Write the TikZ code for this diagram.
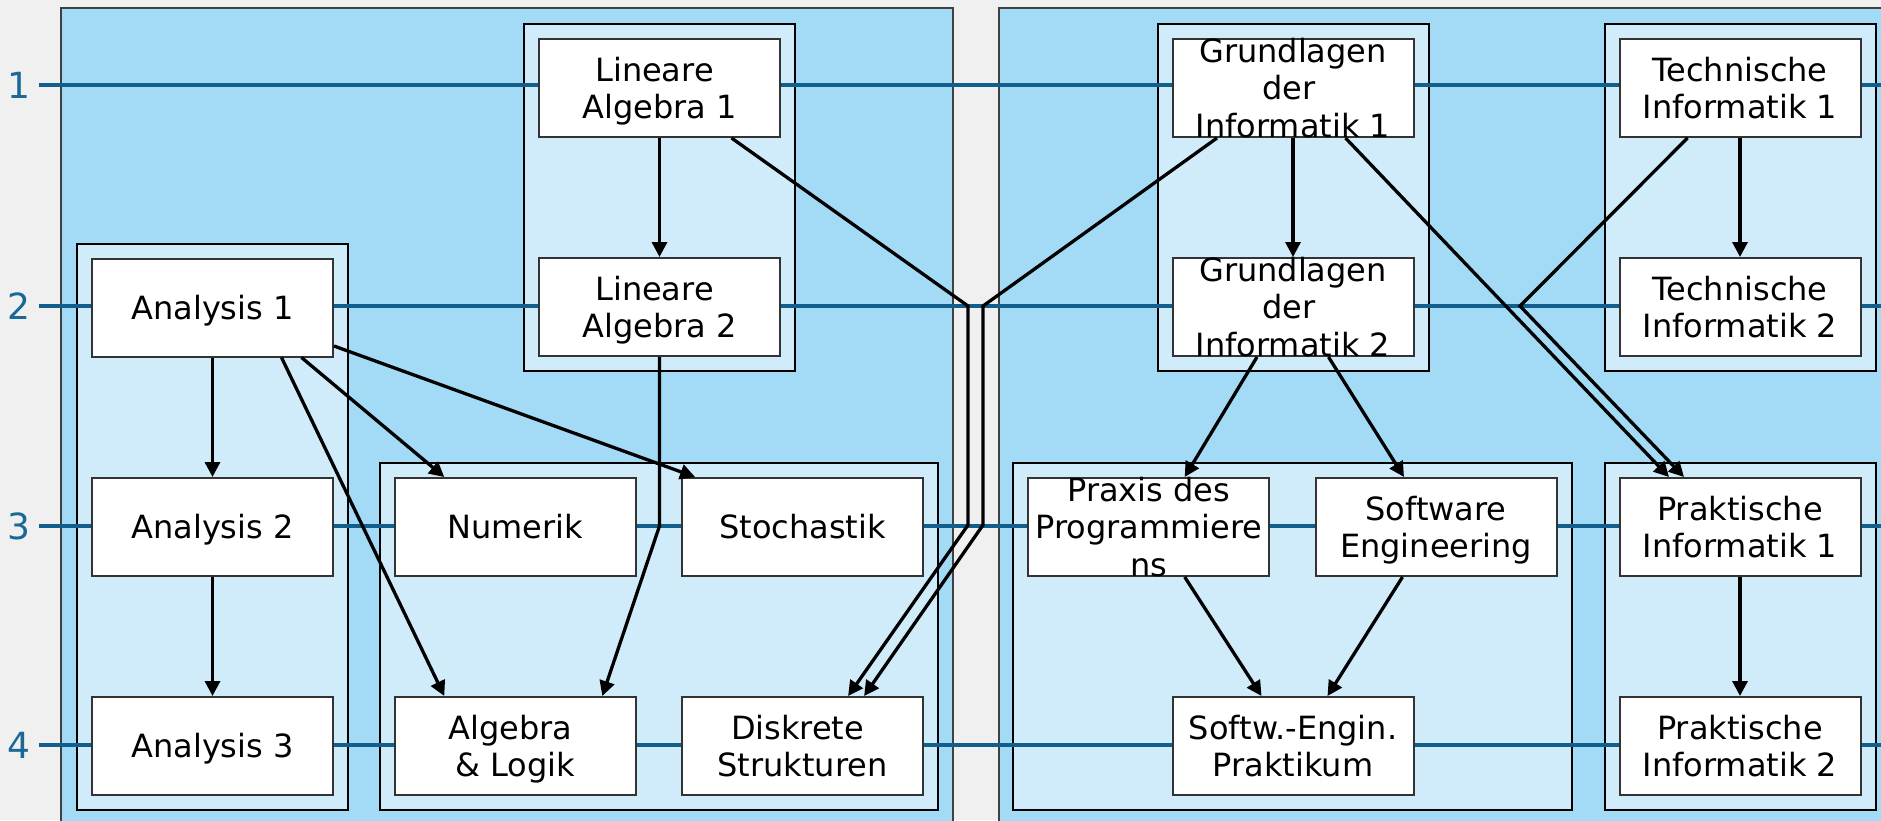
\documentclass[tikz,border=0pt]{standalone}
\usepackage{fontspec}
\setmainfont{DejaVu Sans}
\usetikzlibrary{arrows.meta,fit,calc}

\definecolor{pagegray}{HTML}{F0F0F0}
\definecolor{panelblue}{HTML}{A3DBF6}
\definecolor{groupblue}{HTML}{D0ECFA}
\definecolor{rowblue}{HTML}{125E8C}
\definecolor{numblue}{HTML}{1A6896}

\pgfdeclarelayer{back}
\pgfdeclarelayer{rows}
\pgfsetlayers{back,rows,main}

% uniform line box for the course titles
\newcommand\lnh{\rule[-7pt]{0pt}{37.5pt}}
\newcommand\coursefont{\fontsize{32pt}{37.5pt}\selectfont}

\begin{document}
\begin{tikzpicture}[x=1pt, y=-1pt,
  course/.style={draw=black!80, line width=2pt, fill=white,
    minimum width=241pt, minimum height=98pt, inner sep=0pt},
  ctext/.style={inner sep=0pt, align=center, font=\coursefont, text=black},
  grp/.style={draw=black, line width=2pt, fill=groupblue, inner sep=14pt},
  panel/.style={draw=black!75, line width=1.5pt, fill=panelblue},
  rowline/.style={draw=rowblue, line width=3.3pt},
  rownum/.style={text=numblue, font=\fontsize{36pt}{40pt}\selectfont,
    inner sep=0pt, text height=26.5pt, text depth=0pt},
  conn/.style={line width=3.3pt, -{Triangle[length=15pt,width=15pt]}}
]
\useasboundingbox (0,0) rectangle (1881,820);

% semester numbers
\node[rownum] (n1) at (19,85)  {1};
\node[rownum] (n2) at (19,306) {2};
\node[rownum] (n3) at (19,526) {3};
\node[rownum] (n4) at (19,745) {4};
\coordinate (rend) at (1881,0);

% mathematics
\node[course, label={[ctext]center:{\lnh Analysis 1}}] (a1) at (212.5,307.5) {};
\node[course, label={[ctext]center:{\lnh Analysis 2}}] (a2) at (212.5,527) {};
\node[course, label={[ctext]center:{\lnh Analysis 3}}] (a3) at (212.5,746) {};
\node[course, label={[ctext]center:{\lnh Lineare\kern10pt\\\lnh Algebra 1}}] (la1) at (659.5,88) {};
\node[course, label={[ctext]center:{\lnh Lineare\kern10pt\\\lnh Algebra 2}}] (la2) at (659.5,307) {};
\node[course, label={[ctext]center:{\lnh Numerik}}] (num) at (515.3,527) {};
\node[course, label={[ctext]center:{\lnh Stochastik}}] (sto) at (802.6,527) {};
\node[course, label={[ctext]center:{\lnh Algebra\kern10pt\\\lnh \& Logik}}] (al) at (515.3,746) {};
\node[course, label={[ctext]center:{\lnh Diskrete\kern10pt\\\lnh Strukturen}}] (ds) at (802.6,746) {};

% computer science
\node[course, label={[ctext]center:{\lnh Grundlagen\\\lnh der\kern8pt\\\lnh Informatik 1}}] (g1) at (1293,88) {};
\node[course, label={[ctext]center:{\lnh Grundlagen\\\lnh der\kern8pt\\\lnh Informatik 2}}] (g2) at (1293,307) {};
\node[course, label={[ctext]center:{\lnh Technische\\\lnh Informatik 1}}] (t1) at (1740,88) {};
\node[course, label={[ctext]center:{\lnh Technische\\\lnh Informatik 2}}] (t2) at (1740,307) {};
\node[course, label={[ctext]center:{\lnh Praxis des\\\lnh Programmiere\\\lnh ns}}] (pp) at (1148.7,527) {};
\node[course, label={[ctext]center:{\lnh Software\\\lnh Engineering}}] (se) at (1436,527) {};
\node[course, label={[ctext]center:{\lnh Softw.-Engin.\\\lnh Praktikum}}] (sep) at (1293,746) {};
\node[course, label={[ctext]center:{\lnh Praktische\\\lnh Informatik 1}}] (p1) at (1740,527) {};
\node[course, label={[ctext]center:{\lnh Praktische\\\lnh Informatik 2}}] (p2) at (1740,746) {};

% bend points of the long routes
\coordinate (ja) at (968,306);
\coordinate (jb) at (983,306);
\coordinate (ka) at (968,525);
\coordinate (kb) at (983,525);
\coordinate (tb) at (1520,306);

% prerequisites
\draw[conn] (a1) -- (a2);
\draw[conn] (a2) -- (a3);
\draw[conn] (la1) -- (la2);
\draw[conn] ($(a1.south)+(89,0)$) -- ($(num.north)+(-71,0)$);
\draw[conn] ($(a1.east)+(0,38.5)$) -- ($(sto.north)+(-107.5,0)$);
\draw[conn] ($(a1.south)+(69,0)$) -- ($(al.north)+(-71,0)$);
\draw[conn] (la2.south) -- (la2.south |- n3) -- ($(al.north)+(87,0)$);
\draw[conn] ($(la1.south)+(72,0)$) -- (ja) -- (ka) -- ($(ds.north)+(45.5,0)$);
\draw[conn] ($(g1.south)+(-76,0)$) -- (jb) -- (kb) -- ($(ds.north)+(61.5,0)$);
\draw[conn] (g1) -- (g2);
\draw[conn] ($(g2.south)+(-36,0)$) -- ($(pp.north)+(36,0)$);
\draw[conn] ($(g2.south)+(35.5,0)$) -- ($(se.north)+(-32,0)$);
\draw[conn] ($(pp.south)+(36,0)$) -- ($(sep.north)+(-31.5,0)$);
\draw[conn] ($(se.south)+(-33.5,0)$) -- ($(sep.north)+(34.5,0)$);
\draw[conn] (t1) -- (t2);
\draw[conn] (p1) -- (p2);
\draw[conn] ($(g1.south)+(52.5,0)$) -- ($(p1.north)+(-71,0)$);
\draw[conn] ($(t1.south)+(-52.5,0)$) -- (tb) -- ($(p1.north)+(-56,0)$);

% page, faculty panels and module groups
\begin{pgfonlayer}{back}
\fill[pagegray] (0,0) rectangle (1881,820);
\draw[panel] (61,8) rectangle (953,830);
\draw[panel] (999,8) rectangle (1890,830);
\node[grp, fit=(a1)(a3)] (ga) {};
\node[grp, fit=(la1)(la2)] (gla) {};
\node[grp, fit=(num)(ds)] (gmath) {};
\node[grp, fit=(g1)(g2)] (ggdi) {};
\node[grp, fit=(t1)(t2)] (gti) {};
\node[grp, fit=(pp)(se)(sep)] (gsw) {};
\node[grp, fit=(p1)(p2)] (gpi) {};
\end{pgfonlayer}

% semester lines
\begin{pgfonlayer}{rows}
\foreach \r in {1,...,4}
  \draw[rowline] ([xshift=8pt]n\r.east) -- (n\r -| rend);
\end{pgfonlayer}
\end{tikzpicture}
\end{document}
